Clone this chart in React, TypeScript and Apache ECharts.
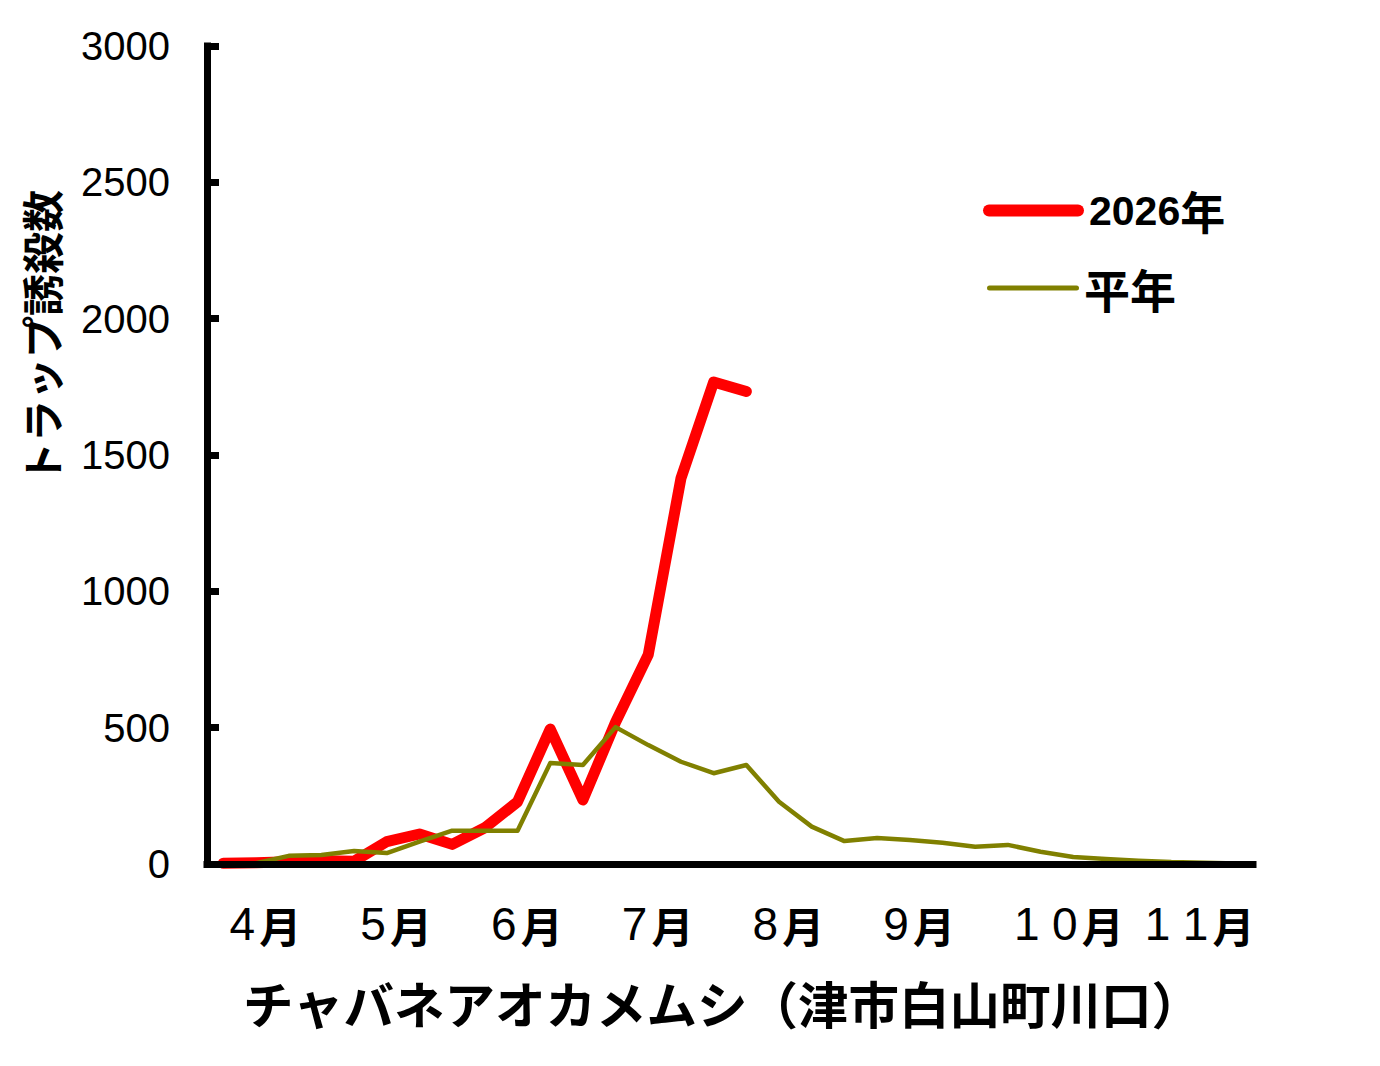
import React, { useEffect, useRef } from "react";
import * as echarts from "echarts";

// 32 periods: 8 months x 4 periods per month
const months = ["4月", "5月", "6月", "7月", "8月", "9月", "10月", "11月"];
const periods: string[] = months.flatMap((m) => [m + "1", m + "2", m + "3", m + "4"]);

const yTicks = [0, 500, 1000, 1500, 2000, 2500, 3000];

// 2026年 (data up to early August)
const values2026 = [
  3, 5, 8, 12, 10, 82, 110, 72, 133, 228, 495, 235,
  520, 768, 1415, 1768, 1733,
];

// 平年 (normal year)
const valuesNormal = [
  3, 3, 30, 33, 48, 40, 82, 122, 122, 122, 370, 363,
  502, 436, 375, 333, 363, 228, 137, 84, 95, 88, 78, 63,
  70, 45, 26, 18, 12, 7, 5, 2,
];

const seriesNames = ["2026年", "平年"];
const yAxisTitle = "トラップ誘殺数";
const xAxisTitle = "チャバネアオカメムシ（津市白山町川口）";

const CJK = "'Noto Sans CJK JP', sans-serif";
const NUM = "'Liberation Sans', 'Noto Sans CJK JP', sans-serif";

// split a month label into rich-text cells (one per character)
const monthRich = (label: string) =>
  label
    .split("")
    .map((ch) => (/[0-9]/.test(ch) ? "{d|" + ch + "}" : "{m|" + ch + "}"))
    .join("");

export default function App() {
  const ref = useRef<HTMLDivElement>(null);
  useEffect(() => {
    if (!ref.current) return;
    const chart = echarts.init(ref.current, null, { renderer: "svg" });
    chart.setOption({
      animation: false,
      backgroundColor: "#fff",
      grid: { left: 207, top: 46, width: 1046, height: 818, containLabel: false },
      legend: [
        {
          data: [
            {
              name: seriesNames[0],
              icon: "path://M6,0H95A6,6,0,0,1,95,12H6A6,6,0,0,1,6,0Z",
              itemStyle: { color: "#ff0000" },
            },
          ],
          left: 983,
          top: 188,
          padding: 0,
          itemWidth: 101,
          itemHeight: 12,
          formatter: (n: string) => "{d|" + n.replace("年", "") + "}{c|年}",
          textStyle: {
            color: "#000",
            rich: {
              d: { fontSize: 41, fontWeight: "bold", fontFamily: NUM, color: "#000" },
              c: { fontSize: 45, fontWeight: "bold", fontFamily: CJK, color: "#000" },
            },
          },
          selectedMode: false,
        },
        {
          data: [
            {
              name: seriesNames[1],
              icon: "path://M2.5,0H89.5A2.5,2.5,0,0,1,89.5,5H2.5A2.5,2.5,0,0,1,2.5,0Z",
              itemStyle: { color: "#808000" },
            },
          ],
          left: 987,
          top: 265,
          padding: 0,
          itemWidth: 92,
          itemHeight: 5,
          textStyle: { fontSize: 46, fontWeight: "bold", color: "#000", fontFamily: CJK },
          selectedMode: false,
        },
      ],
      xAxis: {
        type: "category",
        data: periods,
        boundaryGap: true,
        z: 5,
        axisLine: { lineStyle: { color: "#000", width: 7, cap: "square" } },
        axisTick: { inside: true, length: 12, interval: 3, lineStyle: { color: "#000", width: 7 } },
        axisLabel: {
          interval: 3,
          align: "left",
          margin: 37,
          color: "#000",
          formatter: (v: string, i: number) => (i % 4 === 0 ? monthRich(months[i / 4]) : ""),
          rich: {
            d: { fontSize: 46, fontFamily: NUM, color: "#000", width: 38, align: "center" },
            m: {
              fontSize: 42,
              fontWeight: "bold",
              fontFamily: CJK,
              color: "#000",
              width: 38,
              align: "center",
            },
          },
        },
        splitLine: { show: false },
      },
      yAxis: {
        type: "value",
        min: yTicks[0],
        max: yTicks[yTicks.length - 1],
        interval: 500,
        z: 5,
        axisLine: { show: true, lineStyle: { color: "#000", width: 7, cap: "square" } },
        axisTick: { show: true, inside: true, length: 12, lineStyle: { color: "#000", width: 7 } },
        axisLabel: {
          margin: 37,
          fontSize: 40,
          color: "#000",
          fontFamily: NUM,
          formatter: (v: number) => String(v),
        },
        splitLine: { show: false },
      },
      graphic: [
        {
          type: "text",
          x: 40,
          y: 337,
          rotation: Math.PI / 2,
          style: {
            text: yAxisTitle,
            fontSize: 42,
            fontFamily: CJK,
            fontWeight: "bold",
            fill: "#000",
            align: "center",
            verticalAlign: "middle",
          },
        },
        {
          type: "text",
          x: 243,
          y: 1002,
          style: {
            text: xAxisTitle,
            fontSize: 50.5,
            fontFamily: CJK,
            fontWeight: "bold",
            fill: "#000",
            align: "left",
            verticalAlign: "middle",
          },
        },
      ],
      series: [
        {
          name: seriesNames[0],
          type: "line",
          data: values2026,
          symbol: "none",
          symbolKeepAspect: false,
          itemStyle: { color: "#ff0000" },
          lineStyle: { color: "#ff0000", width: 11, cap: "round", join: "round" },
          z: 2,
        },
        {
          name: seriesNames[1],
          type: "line",
          data: valuesNormal,
          symbol: "none",
          symbolKeepAspect: false,
          itemStyle: { color: "#808000" },
          lineStyle: { color: "#808000", width: 4.5, join: "round" },
          z: 3,
        },
      ],
    });
    return () => chart.dispose();
  }, []);
  return (
    <div
      ref={ref}
      style={{ position: "fixed", left: 0, top: 0, width: 1380, height: 1066, background: "#fff" }}
    />
  );
}
